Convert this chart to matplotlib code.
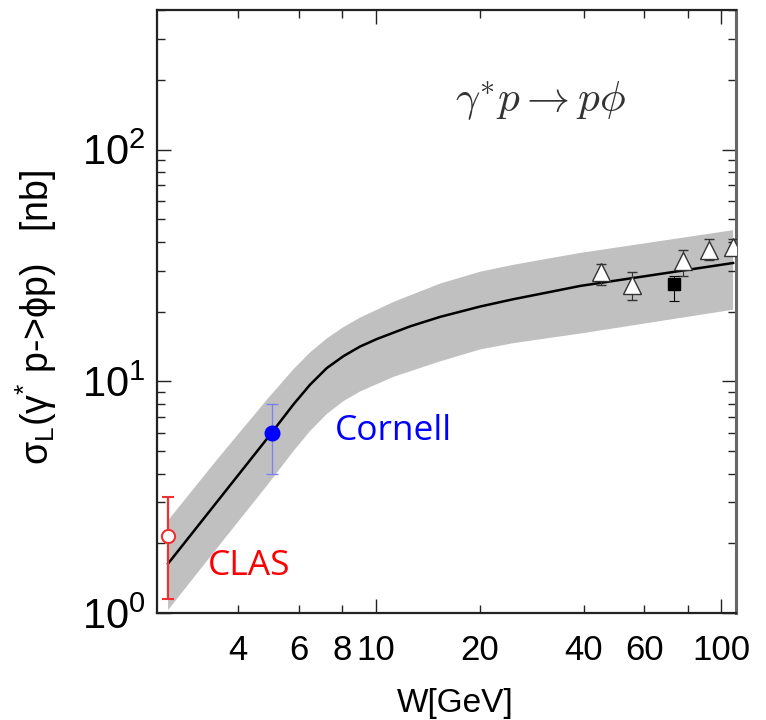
import numpy as np
import matplotlib
matplotlib.use("Agg")
import matplotlib.pyplot as plt
from matplotlib.ticker import FixedLocator, FixedFormatter, NullFormatter

# -------- model curve --------
W_MID   = [2.508, 3.50, 4.885, 5.78, 6.46, 7.22, 8.07, 9.02, 10.08, 12.58, 15.37, 20.06, 25.0, 31.4, 39.1, 108.3]
SIG_MID = [1.634, 3.06, 5.73, 7.94, 9.67, 11.40, 12.84, 14.13, 15.22, 17.26, 18.97, 21.02, 22.60, 24.17, 25.80, 32.4]

# -------- uncertainty band edges --------
W_UP   = [2.508, 3.50, 4.885, 5.78, 6.46, 7.22, 8.07, 9.02, 11.26, 15.37, 20.06, 25.0, 31.4, 39.1, 108.3]
SIG_UP = [2.51, 4.65, 8.45, 11.26, 13.32, 15.30, 17.14, 18.83, 22.0, 26.4, 29.7, 31.8, 33.8, 35.8, 44.9]
W_LO   = [2.508, 3.50, 4.885, 5.78, 6.46, 7.22, 8.07, 9.02, 11.26, 15.37, 20.06, 25.0, 31.4, 39.1, 108.3]
SIG_LO = [1.03, 1.93, 3.60, 4.99, 6.10, 7.22, 8.21, 9.04, 10.45, 12.19, 13.72, 14.60, 15.34, 16.07, 20.37]

# -------- data points --------
CLAS_W, CLAS_S, CLAS_LO, CLAS_HI = [2.5], [2.15], [1.15], [3.16]
CORN_W, CORN_S, CORN_LO, CORN_HI = [5.0], [6.0], [4.0], [8.0]
TRI_W  = [45.0, 55.2, 77.4, 92.5, 108.5]
TRI_S  = [29.6, 26.0, 33.0, 36.8, 38.0]
TRI_LO = [26.0, 22.5, 28.5, 33.5, 35.0]
TRI_HI = [32.2, 29.5, 36.7, 41.2, 41.0]
SQ_W, SQ_S, SQ_LO, SQ_HI = [72.8], [26.4], [22.3], [28.5]

X_MAJOR = [10, 100]
X_MAJOR_LABELS = ["10", "100"]
X_MINOR = [4, 6, 8, 20, 40, 60, 80]
X_MINOR_LABELS = ["4", "6", "8", "20", "40", "60", ""]


def yerr(s, lo, hi):
    s, lo, hi = map(np.asarray, (s, lo, hi))
    return [s - lo, hi - s]


plt.rcParams["font.family"] = ["Liberation Sans", "DejaVu Sans"]
plt.rcParams["mathtext.fontset"] = "custom"
plt.rcParams["mathtext.rm"] = "Liberation Sans"
plt.rcParams["mathtext.it"] = "Liberation Sans:italic"
plt.rcParams["mathtext.bf"] = "Liberation Sans:bold"

fig = plt.figure(figsize=(7.66, 7.20), dpi=100)
ax = fig.add_axes([0.205, 0.1486, 0.756, 0.8374])
ax.set_xscale("log")
ax.set_yscale("log")

# band as a closed polygon: upper edge left->right, lower edge back
band_x = np.r_[W_UP, W_LO[::-1]]
band_y = np.r_[SIG_UP, SIG_LO[::-1]]
ax.fill(band_x, band_y, color="#c0c0c0", lw=0, zorder=1)
ax.plot(W_MID, SIG_MID, color="black", lw=1.8, zorder=2)

ax.errorbar(CLAS_W, CLAS_S, yerr=yerr(CLAS_S, CLAS_LO, CLAS_HI), fmt="o",
            color="#f03030", mfc="white", mec="#f03030", ms=9.5, mew=1.5,
            elinewidth=1.6, capsize=4.5, capthick=1.6, zorder=4)
ax.errorbar(CORN_W, CORN_S, yerr=yerr(CORN_S, CORN_LO, CORN_HI), fmt="none",
            ecolor="#8080f0", elinewidth=1.0, capsize=4, capthick=1.0, zorder=3)
ax.plot(CORN_W, CORN_S, "o", color="#0000ff", ms=10.5, zorder=4)
ax.errorbar(TRI_W, TRI_S, yerr=yerr(TRI_S, TRI_LO, TRI_HI), fmt="^",
            color="#333333", mfc="white", mec="#333333", ms=13, mew=1.0,
            elinewidth=0.8, capsize=3.5, capthick=0.8, zorder=4)
ax.errorbar(SQ_W, SQ_S, yerr=yerr(SQ_S, SQ_LO, SQ_HI), fmt="s",
            color="black", ms=8.5, elinewidth=0.8, capsize=3.5, capthick=0.8, zorder=4)

ax.set_xlim(2.33, 110.5)
ax.set_ylim(1, 400)

# x ticks: 10 and 100 long, the even ones in between short but labelled
ax.xaxis.set_major_locator(FixedLocator(X_MAJOR))
ax.xaxis.set_major_formatter(FixedFormatter(X_MAJOR_LABELS))
ax.xaxis.set_minor_locator(FixedLocator(X_MINOR))
ax.xaxis.set_minor_formatter(FixedFormatter(X_MINOR_LABELS))

ax.tick_params(axis="both", which="both", direction="in", top=True, right=True,
               color="#222222")
ax.tick_params(which="major", length=10, width=1.0)
ax.tick_params(which="minor", length=6, width=1.0)
ax.tick_params(axis="x", which="both", labelsize=25, pad=15)
ax.tick_params(axis="y", which="major", labelsize=30, pad=8)
ax.yaxis.set_minor_formatter(NullFormatter())

for side in ("left", "bottom", "top"):
    ax.spines[side].set_linewidth(1.6)
    ax.spines[side].set_color("#222222")
ax.spines["right"].set_linewidth(2.2)
ax.spines["right"].set_color("#666666")

ax.set_xlabel("W[GeV]", fontsize=24)
ax.xaxis.set_label_coords(0.515, -0.125)
ax.set_ylabel(r"σ$_{\mathrm{L}}$(γ$^{*}$ p->ϕp)   [nb]", fontsize=27)
ax.yaxis.set_label_coords(-0.17, 0.49)

ax.text(0.515, 0.849, r"$\gamma^{*}p \rightarrow p\phi$", transform=ax.transAxes,
        fontsize=31, math_fontfamily="cm", ha="left", va="center", color="#333333")
ax.text(7.6, 6.1, "Cornell", color="#0000ff", fontsize=25.5,
        family=["Open Sans", "DejaVu Sans"], ha="left", va="center")
ax.text(3.27, 1.59, "CLAS", color="#ff0000", fontsize=25.5,
        family=["Open Sans", "DejaVu Sans"], ha="left", va="center")

fig.savefig("out.png", dpi=100)
